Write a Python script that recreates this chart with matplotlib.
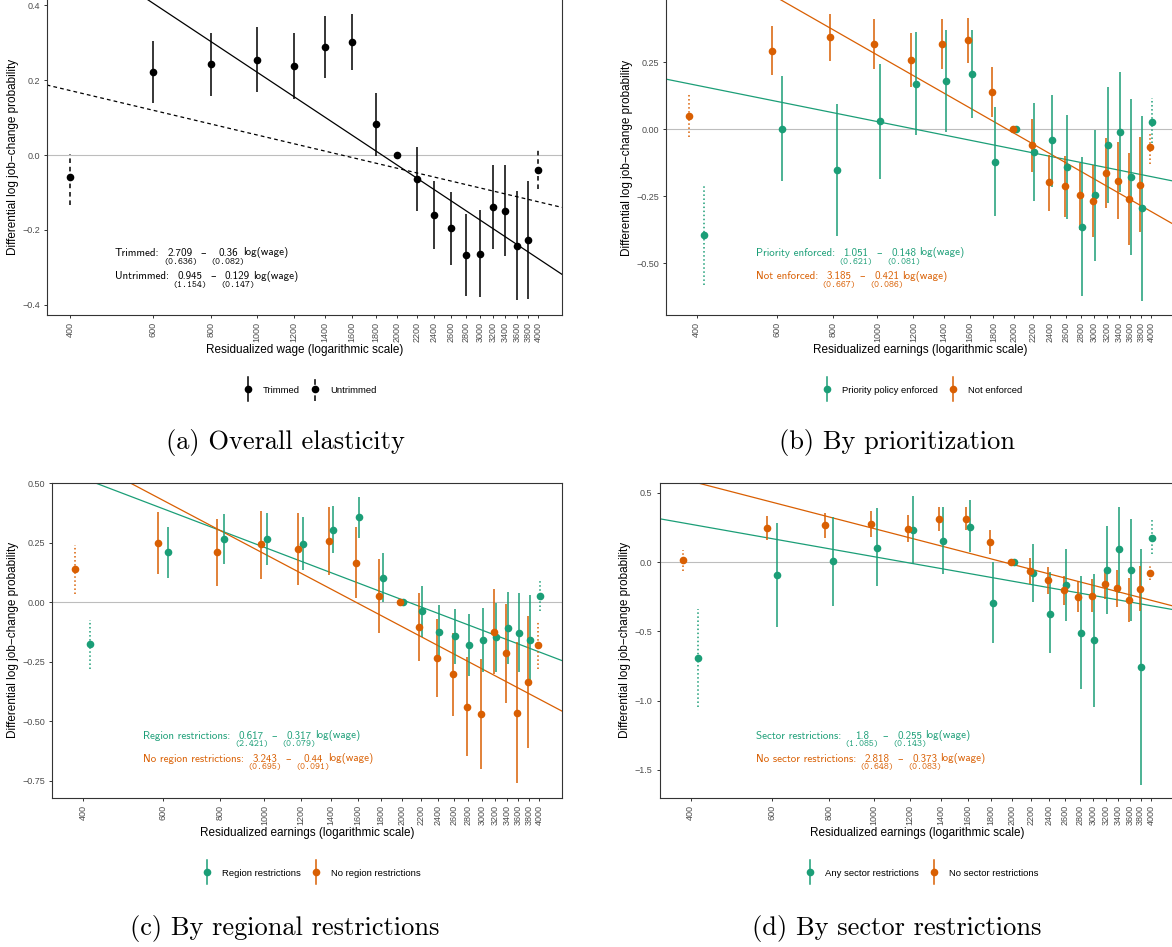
import numpy as np
import matplotlib
matplotlib.use("Agg")
import matplotlib.pyplot as plt
from matplotlib.lines import Line2D
from matplotlib.legend_handler import HandlerBase

plt.rcParams.update({
    "font.family": ["Liberation Sans", "DejaVu Sans"],
    "axes.unicode_minus": True,
})

W, H = 1172, 947
GREEN = "#1B9E77"
ORANGE = "#D95F02"
TICK_GREY = "#4D4D4D"
ANNOT_FONT = ["cmss10", "DejaVu Sans"]
SE_FONT = ["cmtt10", "DejaVu Sans Mono"]
CAPTION_FONT = ["cmr10", "DejaVu Serif"]
nan = np.nan

WAGE = [400, 600, 800, 1000, 1200, 1400, 1600, 1800, 2000, 2200,
        2400, 2600, 2800, 3000, 3200, 3400, 3600, 3800, 4000]
TAILS = [400, 4000]  # untrimmed end bins

# (a) overall elasticity
A_EST = [-0.060, 0.222, 0.243, 0.255, 0.238, 0.289, 0.302, 0.083, 0.0, -0.064,
         -0.161, -0.196, -0.268, -0.264, -0.139, -0.149, -0.242, -0.227, -0.039]
A_LO = [-0.133, 0.138, 0.157, 0.168, 0.149, 0.205, 0.227, -0.002, nan, -0.149,
        -0.252, -0.293, -0.378, -0.380, -0.250, -0.271, -0.388, -0.384, -0.092]
A_HI = [0.003, 0.305, 0.327, 0.341, 0.327, 0.372, 0.378, 0.167, nan, 0.022,
        -0.069, -0.099, -0.158, -0.147, -0.027, -0.027, -0.095, -0.069, 0.013]

# (b) by prioritization
B_G_EST = [-0.394, 0.002, -0.153, 0.030, 0.170, 0.179, 0.206, -0.121, 0.0, -0.085,
           -0.041, -0.141, -0.364, -0.246, -0.057, -0.009, -0.177, -0.295, 0.026]
B_G_LO = [-0.581, -0.192, -0.399, -0.184, -0.020, -0.011, 0.044, -0.323, nan, -0.266,
          -0.214, -0.335, -0.622, -0.490, -0.274, -0.235, -0.469, -0.639, -0.052]
B_G_HI = [-0.208, 0.199, 0.093, 0.245, 0.362, 0.371, 0.371, 0.085, nan, 0.097,
          0.129, 0.052, -0.102, -0.002, 0.158, 0.215, 0.113, 0.050, 0.116]
B_O_EST = [0.051, 0.294, 0.343, 0.318, 0.259, 0.318, 0.332, 0.141, 0.0, -0.058,
           -0.198, -0.211, -0.246, -0.269, -0.162, -0.192, -0.261, -0.208, -0.066]
B_O_LO = [-0.027, 0.201, 0.255, 0.224, 0.157, 0.226, 0.246, 0.047, nan, -0.158,
          -0.305, -0.326, -0.376, -0.403, -0.292, -0.335, -0.432, -0.384, -0.129]
B_O_HI = [0.131, 0.386, 0.432, 0.412, 0.358, 0.410, 0.417, 0.231, nan, 0.039,
          -0.095, -0.100, -0.124, -0.132, -0.031, -0.046, -0.090, -0.029, -0.015]

# (c) by regional restrictions
C_G_EST = [-0.175, 0.210, 0.266, 0.266, 0.246, 0.304, 0.357, 0.104, 0.0, -0.036,
           -0.123, -0.143, -0.179, -0.158, -0.146, -0.108, -0.127, -0.160, 0.027]
C_G_LO = [-0.280, 0.101, 0.160, 0.157, 0.136, 0.206, 0.269, 0.001, nan, -0.144,
          -0.228, -0.261, -0.308, -0.294, -0.291, -0.259, -0.294, -0.340, -0.035]
C_G_HI = [-0.074, 0.318, 0.373, 0.375, 0.357, 0.406, 0.444, 0.206, nan, 0.070,
          -0.011, -0.027, -0.050, -0.025, -0.004, 0.042, 0.041, 0.031, 0.090]
C_O_EST = [0.141, 0.249, 0.210, 0.244, 0.224, 0.259, 0.167, 0.027, 0.0, -0.102,
           -0.232, -0.303, -0.440, -0.468, -0.123, -0.214, -0.466, -0.336, -0.179]
C_O_LO = [0.035, 0.119, 0.070, 0.099, 0.074, 0.115, 0.020, -0.127, nan, -0.246,
          -0.396, -0.480, -0.648, -0.700, -0.303, -0.424, -0.760, -0.613, -0.280]
C_O_HI = [0.241, 0.380, 0.350, 0.384, 0.374, 0.402, 0.315, 0.181, nan, 0.039,
          -0.070, -0.127, -0.231, -0.237, 0.056, -0.007, -0.165, -0.056, -0.078]

# (d) by sector restrictions
D_G_EST = [-0.691, -0.094, 0.007, 0.104, 0.232, 0.152, 0.251, -0.295, 0.0, -0.080,
           -0.372, -0.167, -0.510, -0.563, -0.056, 0.097, -0.060, -0.756, 0.176]
D_G_LO = [-1.046, -0.466, -0.314, -0.176, -0.012, -0.089, 0.070, -0.587, nan, -0.292,
          -0.659, -0.428, -0.913, -1.043, -0.374, -0.225, -0.428, -1.611, 0.056]
D_G_HI = [-0.338, 0.278, 0.326, 0.386, 0.476, 0.399, 0.447, 0.002, nan, 0.133,
          -0.072, 0.092, -0.104, -0.085, 0.261, 0.399, 0.307, 0.097, 0.302]
D_O_EST = [0.012, 0.246, 0.266, 0.273, 0.239, 0.312, 0.312, 0.145, 0.0, -0.065,
           -0.133, -0.205, -0.249, -0.242, -0.155, -0.186, -0.271, -0.193, -0.077]
D_O_LO = [-0.065, 0.157, 0.176, 0.181, 0.143, 0.222, 0.229, 0.056, nan, -0.162,
          -0.229, -0.309, -0.362, -0.362, -0.266, -0.321, -0.435, -0.355, -0.133]
D_O_HI = [0.089, 0.331, 0.350, 0.365, 0.336, 0.394, 0.396, 0.232, nan, 0.031,
          -0.036, -0.104, -0.140, -0.121, -0.048, -0.060, -0.114, -0.031, -0.017]

# fitted lines as drawn: (intercept, slope on log wage)
A_FIT_TRIM = (2.709, -0.36)
A_FIT_UNTRIM = (0.945, -0.129)
B_FIT_G = (1.051, -0.148)
B_FIT_O = (3.185, -0.421)
C_FIT_G = (2.421, -0.317)
C_FIT_O = (3.243, -0.44)
D_FIT_G = (1.8, -0.255)
D_FIT_O = (2.818, -0.373)

# annotation texts: name, intercept, slope, se(intercept), se(slope)
A_LABELS = [("Trimmed:", "2.709", "0.36", "(0.636)", "(0.082)"),
            ("Untrimmed:", "0.945", "0.129", "(1.154)", "(0.147)")]
B_LABELS = [("Priority enforced:", "1.051", "0.148", "(0.621)", "(0.081)"),
            ("Not enforced:", "3.185", "0.421", "(0.667)", "(0.086)")]
C_LABELS = [("Region restrictions:", "0.617", "0.317", "(2.421)", "(0.079)"),
            ("No region restrictions:", "3.243", "0.44", "(0.695)", "(0.091)")]
D_LABELS = [("Sector restrictions:", "1.8", "0.255", "(1.085)", "(0.143)"),
            ("No sector restrictions:", "2.818", "0.373", "(0.648)", "(0.083)")]

DODGE = 15  # wage units


class PointRangeHandler(HandlerBase):
    def create_artists(self, legend, orig, xdescent, ydescent, width, height,
                       fontsize, trans):
        cx = width / 2 - xdescent
        cy = height / 2 - ydescent
        bar = Line2D([cx, cx], [cy - 8.5, cy + 8.5], color=orig.get_color(),
                     lw=orig.get_linewidth(), linestyle=orig.get_linestyle(),
                     transform=trans)
        dot = Line2D([cx], [cy], marker="o", ms=orig.get_markersize(),
                     color=orig.get_color(), mec="none", ls="none", transform=trans)
        return [bar, dot]


def px_box(left, top, right, bottom):
    return [left / W, 1 - bottom / H, (right - left) / W, (bottom - top) / H]


def setup(ax, xlim, ylim, yticks, fmt, xlabel, hide_top):
    ax.set_xscale("log")
    ax.minorticks_off()
    ax.set_xlim(xlim)
    ax.set_ylim(ylim)
    ax.set_xticks(WAGE)
    ax.set_xticklabels([str(w) for w in WAGE], rotation=90)
    ax.set_yticks(yticks)
    ax.set_yticklabels([fmt.format(v).replace("-", "\u2212") for v in yticks])
    ax.tick_params(length=2, width=0.7, color="#333333", labelsize=6.5,
                   labelcolor=TICK_GREY, pad=3)
    for sp in ax.spines.values():
        sp.set_color("#333333")
        sp.set_linewidth(0.8)
    if hide_top:
        ax.spines["top"].set_visible(False)
    ax.axhline(0, color="#BDBDBD", lw=0.8, zorder=1)
    ax.set_xlabel(xlabel, fontsize=8.5, labelpad=1.5)
    ax.set_ylabel("Differential log job\u2212change probability", fontsize=8.5,
                  labelpad=2.5)


def draw_series(ax, est, lo, hi, color, shift, tail_ls):
    x = np.array(WAGE, float) + shift
    est, lo, hi = (np.array(v, float) for v in (est, lo, hi))
    tail = np.isin(WAGE, TAILS)
    ax.vlines(x[~tail], lo[~tail], hi[~tail], color=color, lw=1.1, zorder=3)
    ax.vlines(x[tail], lo[tail], hi[tail], color=color, lw=1.1,
              linestyles=tail_ls, zorder=3)
    ax.plot(x, est, "o", color=color, ms=5.5, mec="none", zorder=4)


def draw_fit(ax, coef, color, ls="-"):
    xs = np.geomspace(*ax.get_xlim(), 200)
    ax.plot(xs, coef[0] + coef[1] * np.log(xs), color=color, lw=0.9, ls=ls, zorder=2)


def fit_label(fig, ax, x, y, labels, color):
    name, a, b, se_a, se_b = labels
    kw = dict(color=color, fontsize=7.9, family=ANNOT_FONT, va="center")
    t = ax.text(x / W, 1 - y / H, name, transform=fig.transFigure, ha="left", **kw)

    def nxt(prev, s, gap, alpha=1.0):
        return ax.annotate(s, xy=(1, 0.5), xycoords=prev, xytext=(gap, 0),
                           textcoords="offset points", ha="left", alpha=alpha, **kw)

    slot_a = nxt(t, "0.000", 5.8, alpha=0)
    dash = nxt(slot_a, "\u2013", 5.5)
    slot_b = nxt(dash, "0.000", 6.5, alpha=0)
    nxt(slot_b, "log(wage)", 2.0)
    for slot, num, se in ((slot_a, a, se_a), (slot_b, b, se_b)):
        ax.annotate(num, xy=(0.5, 0.5), xycoords=slot, ha="center", **kw)
        ax.annotate(se, xy=(0.5, 0), xycoords=slot, xytext=(0, 0.3),
                    textcoords="offset points", ha="center", va="top",
                    color=color, fontsize=6.8, family=SE_FONT)


def legend(fig, x, y, handles, labels):
    fig.legend(handles, labels, handler_map={Line2D: PointRangeHandler()},
               loc="center", bbox_to_anchor=(x / W, 1 - y / H), ncol=2,
               frameon=False, fontsize=6.8, handlelength=0.8, handletextpad=1.2,
               columnspacing=1.2)


def caption(fig, x, y, text):
    fig.text(x / W, 1 - y / H, text, ha="center", va="center", fontsize=19,
             family=CAPTION_FONT)


fig = plt.figure(figsize=(W / 100, H / 100), dpi=100)

# (a)
ax = fig.add_axes(px_box(46.7, 0, 562, 314.7))
setup(ax, (356, 4496), (-0.4267, 0.4142), [-0.4, -0.2, 0.0, 0.2, 0.4], "{:.1f}",
      "Residualized wage (logarithmic scale)", True)
draw_fit(ax, A_FIT_TRIM, "black")
draw_fit(ax, A_FIT_UNTRIM, "black", ls=(0, (3, 2.5)))
draw_series(ax, A_EST, A_LO, A_HI, "black", 0, (0, (3, 2.5)))
fit_label(fig, ax, 115, 253, A_LABELS[0], "black")
fit_label(fig, ax, 115, 276, A_LABELS[1], "black")
legend(fig, 310, 390,
       [Line2D([], [], color="black", lw=1.1, ms=5.5),
        Line2D([], [], color="black", lw=1.1, ms=5.5, ls="--")],
       ["Trimmed", "Untrimmed"])
caption(fig, 285, 443, "(a) Overall elasticity")

# (b)
ax = fig.add_axes(px_box(665.7, 0, 1174, 315))
setup(ax, (342, 4492), (-0.693, 0.4825), [-0.5, -0.25, 0.0, 0.25], "{:.2f}",
      "Residualized earnings (logarithmic scale)", True)
draw_fit(ax, B_FIT_G, GREEN)
draw_fit(ax, B_FIT_O, ORANGE)
draw_series(ax, B_G_EST, B_G_LO, B_G_HI, GREEN, DODGE, ":")
draw_series(ax, B_O_EST, B_O_LO, B_O_HI, ORANGE, -DODGE, ":")
fit_label(fig, ax, 756, 253, B_LABELS[0], GREEN)
fit_label(fig, ax, 756, 276, B_LABELS[1], ORANGE)
legend(fig, 923, 390,
       [Line2D([], [], color=GREEN, lw=1.1, ms=5.5),
        Line2D([], [], color=ORANGE, lw=1.1, ms=5.5)],
       ["Priority policy enforced", "Not enforced"])
caption(fig, 897, 443, "(b) By prioritization")

# (c)
ax = fig.add_axes(px_box(52, 482.7, 562, 798))
setup(ax, (342, 4492), (-0.8227, 0.503), [-0.75, -0.5, -0.25, 0.0, 0.25, 0.5],
      "{:.2f}", "Residualized earnings (logarithmic scale)", False)
draw_fit(ax, C_FIT_G, GREEN)
draw_fit(ax, C_FIT_O, ORANGE)
draw_series(ax, C_G_EST, C_G_LO, C_G_HI, GREEN, DODGE, ":")
draw_series(ax, C_O_EST, C_O_LO, C_O_HI, ORANGE, -DODGE, ":")
fit_label(fig, ax, 143.4, 735.7, C_LABELS[0], GREEN)
fit_label(fig, ax, 143.4, 758.7, C_LABELS[1], ORANGE)
legend(fig, 312, 873,
       [Line2D([], [], color=GREEN, lw=1.1, ms=5.5),
        Line2D([], [], color=ORANGE, lw=1.1, ms=5.5)],
       ["Region restrictions", "No region restrictions"])
caption(fig, 285, 928, "(c) By regional restrictions")

# (d)
ax = fig.add_axes(px_box(659.5, 482.7, 1174, 798))
setup(ax, (342, 4492), (-1.702, 0.572), [-1.5, -1.0, -0.5, 0.0, 0.5], "{:.1f}",
      "Residualized earnings (logarithmic scale)", False)
draw_fit(ax, D_FIT_G, GREEN)
draw_fit(ax, D_FIT_O, ORANGE)
draw_series(ax, D_G_EST, D_G_LO, D_G_HI, GREEN, DODGE, ":")
draw_series(ax, D_O_EST, D_O_LO, D_O_HI, ORANGE, -DODGE, ":")
fit_label(fig, ax, 756, 735.7, D_LABELS[0], GREEN)
fit_label(fig, ax, 756, 758.7, D_LABELS[1], ORANGE)
legend(fig, 922, 873,
       [Line2D([], [], color=GREEN, lw=1.1, ms=5.5),
        Line2D([], [], color=ORANGE, lw=1.1, ms=5.5)],
       ["Any sector restrictions", "No sector restrictions"])
caption(fig, 897, 928, "(d) By sector restrictions")

fig.savefig("out.png", dpi=100)
